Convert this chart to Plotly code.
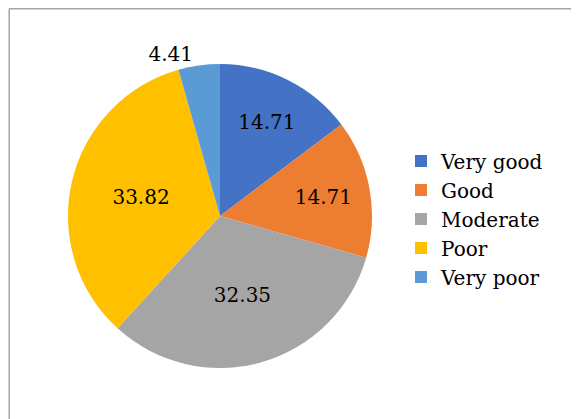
import plotly.graph_objects as go

categories = ["Very good", "Good", "Moderate", "Poor", "Very poor"]
values = [14.71, 14.71, 32.35, 33.82, 4.41]
colors = ["#4472C4", "#ED7D31", "#A5A5A5", "#FFC000", "#5B9BD5"]
text_positions = ["inside", "inside", "inside", "inside", "outside"]

W, H = 579, 419
FONT = "DejaVu Serif"
OFF = 8  # page body margin

fig = go.Figure(go.Pie(
    labels=categories,
    values=values,
    sort=False,
    direction="clockwise",
    rotation=0,
    marker=dict(colors=colors, line=dict(width=0)),
    texttemplate="%{value:.2f}",
    textposition=text_positions,
    insidetextorientation="horizontal",
    textfont=dict(family=FONT, size=20, color="#000000"),
    hole=0,
    domain=dict(x=[(68 - OFF) / W, (372 - OFF) / W],
                y=[1 - (368 - OFF) / H, 1 - (64 - OFF) / H]),
))

fig.update_layout(
    width=W, height=H,
    margin=dict(l=0, r=0, t=0, b=0),
    paper_bgcolor="white",
    font=dict(family=FONT, size=20, color="#000000"),
    showlegend=True,
    legend=dict(
        x=(401 - OFF) / W, xanchor="left",
        y=1 - (219 - OFF) / H, yanchor="middle",
        font=dict(family=FONT, size=20, color="#000000"),
        tracegroupgap=0,
    ),
    shapes=[
        dict(type="line", xref="paper", yref="paper",
             x0=1.2 / W, x1=1, y0=1 - 0.8 / H, y1=1 - 0.8 / H,
             line=dict(color="#A6A6A6", width=1.5)),
        dict(type="line", xref="paper", yref="paper",
             x0=1.2 / W, x1=1.2 / W, y0=0, y1=1 - 0.8 / H,
             line=dict(color="#A6A6A6", width=1.5)),
    ],
)

fig.write_html("out.html")
